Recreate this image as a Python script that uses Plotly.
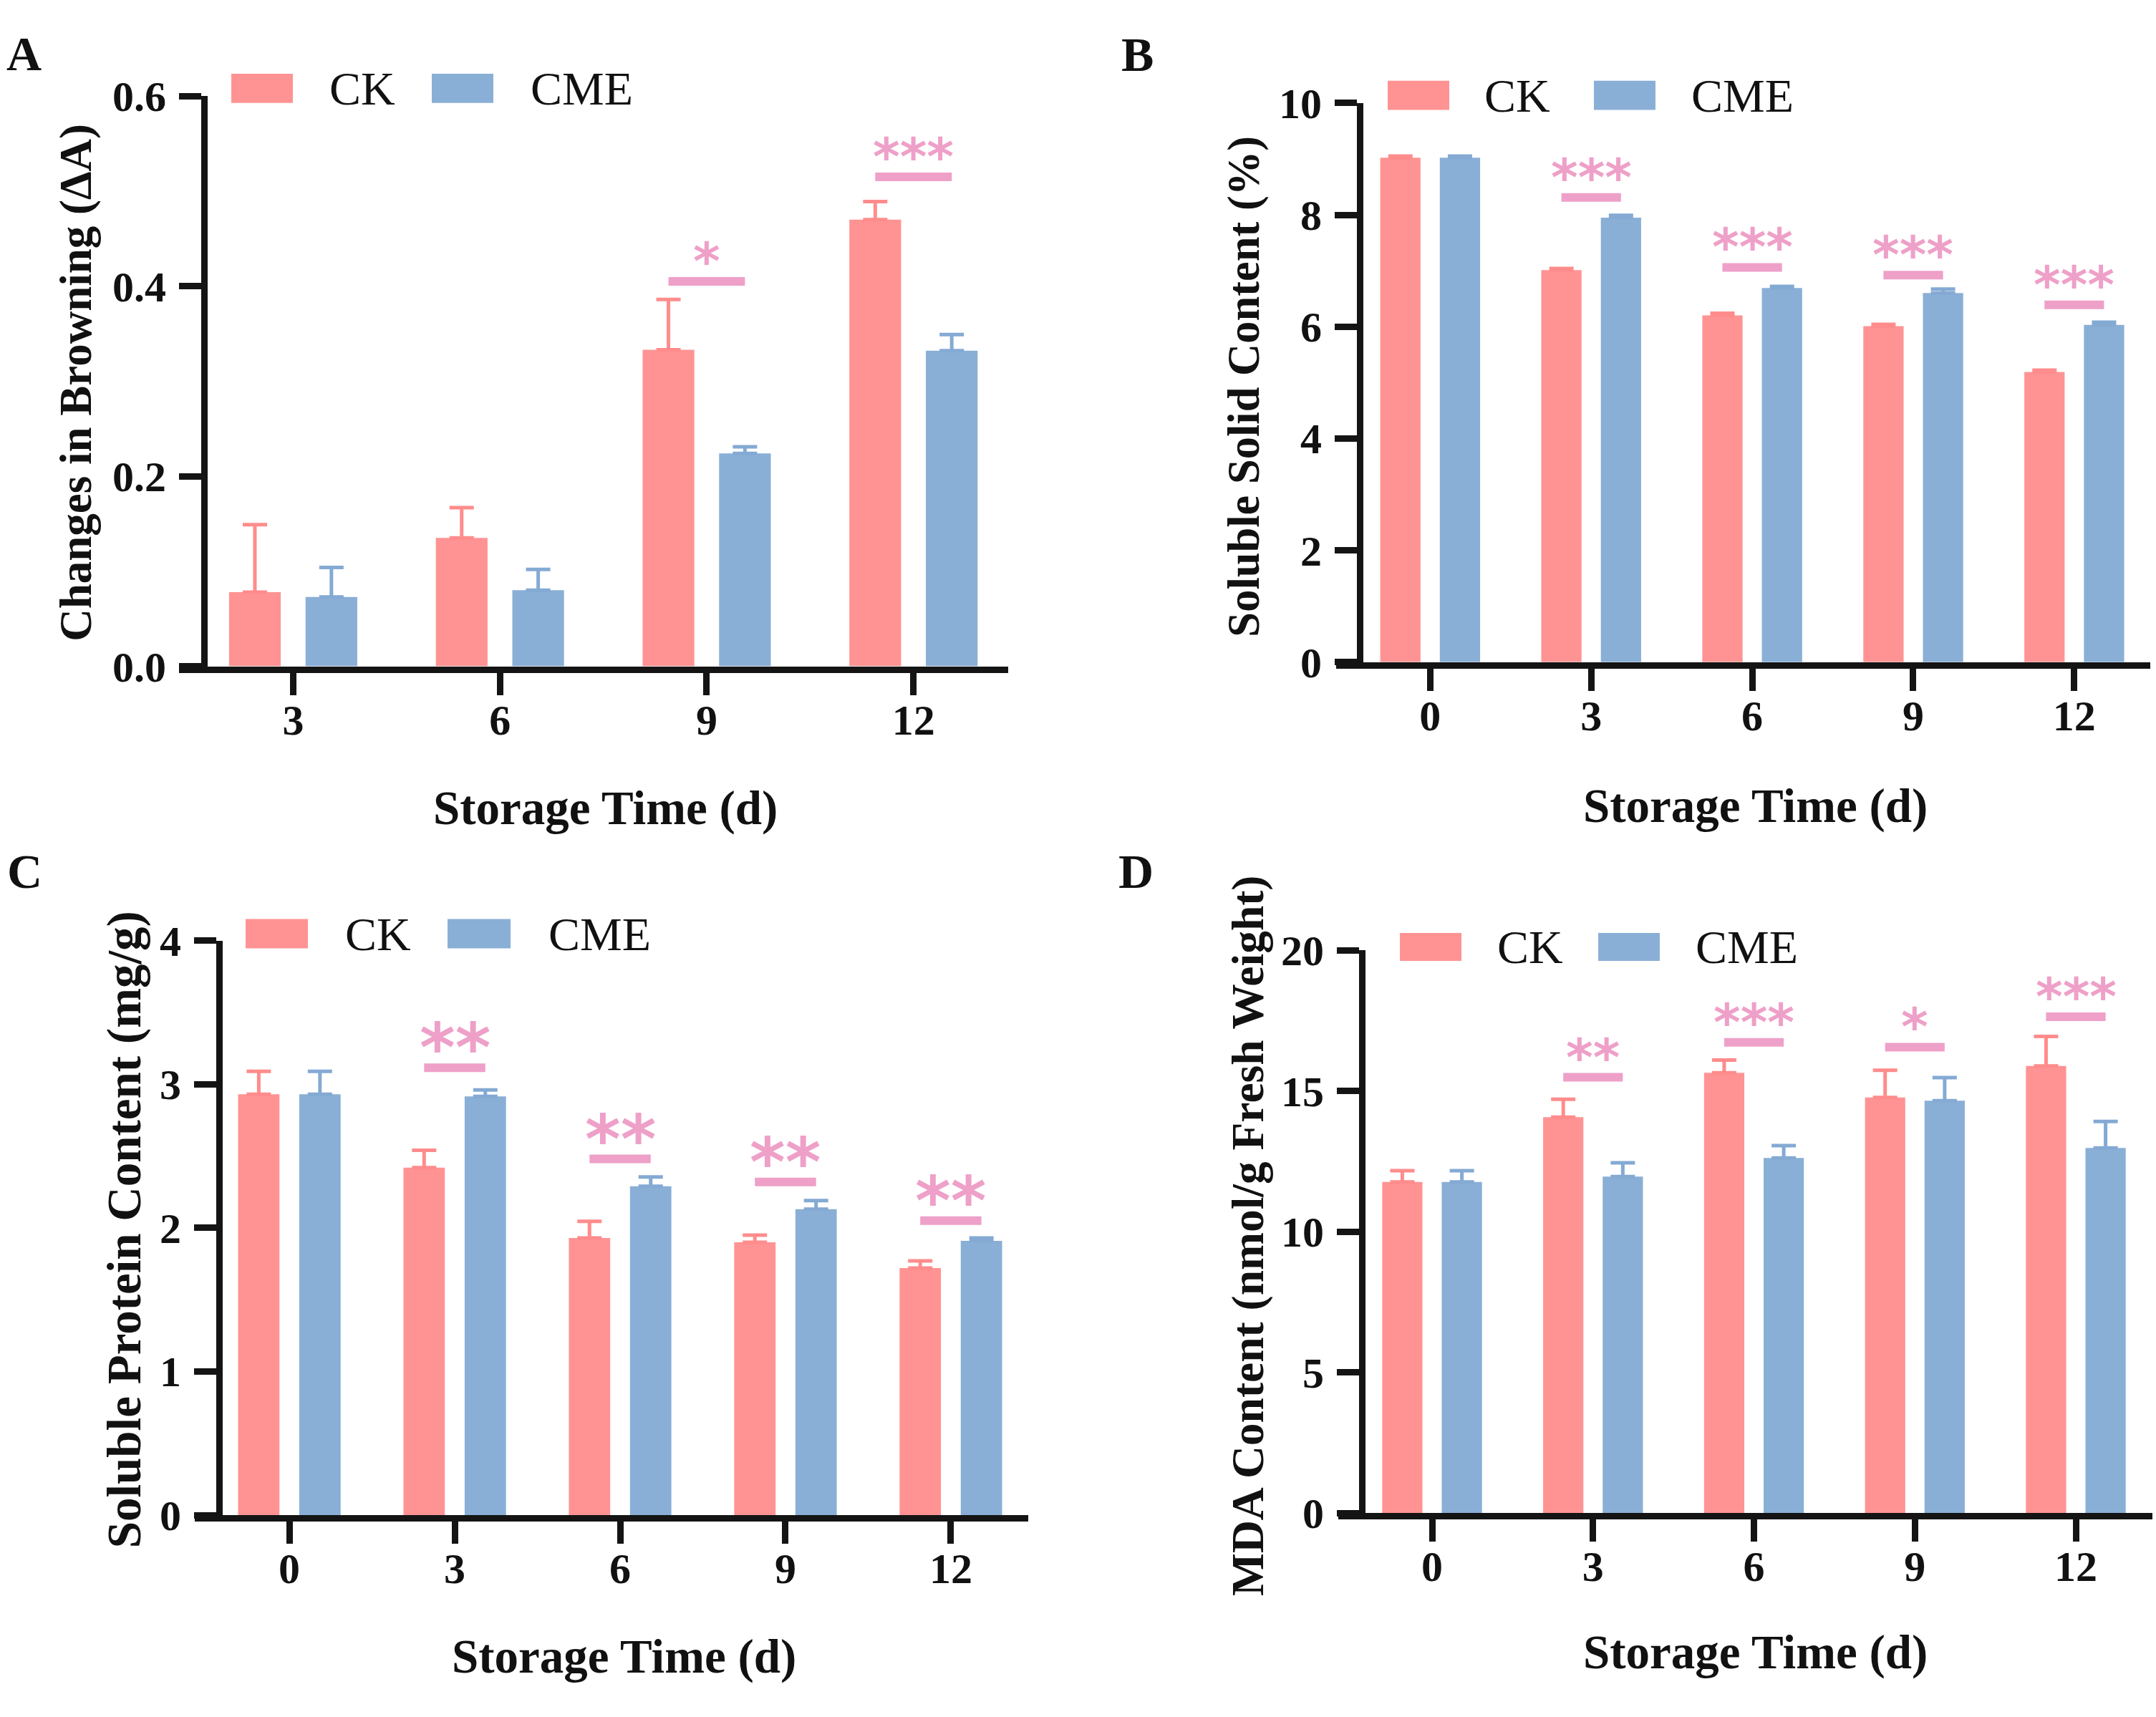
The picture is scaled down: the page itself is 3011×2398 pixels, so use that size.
import plotly.graph_objects as go

W, H = 3011, 2398

# ---------------- data ----------------
days_A = ["3", "6", "9", "12"]
browning_ck = [0.078, 0.135, 0.333, 0.470]
browning_ck_err = [0.071, 0.032, 0.053, 0.019]
browning_cme = [0.073, 0.080, 0.224, 0.332]
browning_cme_err = [0.031, 0.022, 0.007, 0.017]
browning_sig_y = [None, None, 0.405, 0.515]
browning_sig = ["", "", "*", "***"]

days_B = ["0", "3", "6", "9", "12"]
ssc_ck = [9.02, 7.01, 6.20, 6.01, 5.19]
ssc_ck_err = [0.03, 0.03, 0.04, 0.03, 0.03]
ssc_cme = [9.02, 7.95, 6.69, 6.60, 6.03]
ssc_cme_err = [0.03, 0.04, 0.03, 0.07, 0.05]
ssc_sig_y = [None, 8.31, 7.06, 6.92, 6.39]
ssc_sig = ["", "***", "***", "***", "***"]

days_C = ["0", "3", "6", "9", "12"]
protein_ck = [2.93, 2.42, 1.93, 1.90, 1.72]
protein_ck_err = [0.16, 0.12, 0.115, 0.05, 0.05]
protein_cme = [2.93, 2.915, 2.29, 2.13, 1.91]
protein_cme_err = [0.16, 0.045, 0.065, 0.06, 0.02]
protein_sig_y = [None, 3.115, 2.48, 2.32, 2.05]
protein_sig = ["", "**", "**", "**", "**"]

days_D = ["0", "3", "6", "9", "12"]
mda_ck = [11.77, 14.07, 15.65, 14.77, 15.89]
mda_ck_err = [0.40, 0.64, 0.45, 0.97, 1.05]
mda_cme = [11.77, 11.96, 12.62, 14.66, 12.98]
mda_cme_err = [0.40, 0.49, 0.44, 0.82, 0.94]
mda_sig_y = [None, 15.49, 16.73, 16.56, 17.64]
mda_sig = ["", "**", "***", "*", "***"]

series_names = ["CK", "CME"]
x_title = "Storage Time (d)"

# ---------------- style ----------------
CK_COLOR = "#FF9393"
CME_COLOR = "#8AAFD6"
CK_ERR = "#FF8C8C"
CME_ERR = "#84AAD4"
SIG_COLOR = "#EEA0C8"
AXIS_COLOR = "#141414"
TEXT_COLOR = "#111111"
SERIF = "Liberation Serif"
STAR_FONT = "DejaVu Sans"
BARGAP = 0.26
BARGROUPGAP = 0.324
HALF = (1 - BARGAP) / 4  # offset of each bar centre from the category centre

panels = [
    dict(letter="A", days=days_A, ck=browning_ck, ck_err=browning_ck_err,
         cme=browning_cme, cme_err=browning_cme_err,
         sig_y=browning_sig_y, sig=browning_sig,
         yticks=[0, 0.2, 0.4, 0.6], ymax=0.6, tickfmt=".1f",
         ytitle="Changes in Browning (ΔA)", ytsize=63,
         x_line=(250, 1408), x_range=(-0.552, 3.458), yaxis_px=285, y_px=(924, 105),
         letter_xy=(33, 44), leg_y=(73, 115), leg_x=(323, 409, 458, 603, 689, 739),
         xtitle_xy=(846, 1128), ytitle_xy=(106, 517), star=72),
    dict(letter="B", days=days_B, ck=ssc_ck, ck_err=ssc_ck_err,
         cme=ssc_cme, cme_err=ssc_cme_err,
         sig_y=ssc_sig_y, sig=ssc_sig,
         yticks=[0, 2, 4, 6, 8, 10], ymax=10, tickfmt="d",
         ytitle="Soluble Solid Content (%)", ytsize=62.5,
         x_line=(1866, 3003), x_range=(-0.584, 4.472), yaxis_px=1899, y_px=(918, 115),
         letter_xy=(1588, 45), leg_y=(83, 125), leg_x=(1938, 2024, 2071, 2226, 2312, 2360),
         xtitle_xy=(2451, 1124), ytitle_xy=(1737, 522), star=72),
    dict(letter="C", days=days_C, ck=protein_ck, ck_err=protein_ck_err,
         cme=protein_cme, cme_err=protein_cme_err,
         sig_y=protein_sig_y, sig=protein_sig,
         yticks=[0, 1, 2, 3, 4], ymax=4, tickfmt="d",
         ytitle="Soluble Protein Content (mg/g)", ytsize=67,
         x_line=(272, 1436), x_range=(-0.572, 4.468), yaxis_px=306, y_px=(2143, 1318),
         letter_xy=(34, 1219), leg_y=(1287, 1329), leg_x=(343, 430, 480, 625, 713, 764),
         xtitle_xy=(872, 2346), ytitle_xy=(173, 1733), star=95),
    dict(letter="D", days=days_D, ck=mda_ck, ck_err=mda_ck_err,
         cme=mda_cme, cme_err=mda_cme_err,
         sig_y=mda_sig_y, sig=mda_sig,
         yticks=[0, 5, 10, 15, 20], ymax=20, tickfmt="d",
         ytitle="MDA Content (nmol/g Fresh Weight)", ytsize=63.5,
         x_line=(1869, 3006), x_range=(-0.583, 4.476), yaxis_px=1902, y_px=(2140, 1332),
         letter_xy=(1586, 1219), leg_y=(1307, 1347), leg_x=(1955, 2041, 2089, 2232, 2318, 2366),
         xtitle_xy=(2451, 2340), ytitle_xy=(1742, 1742), star=72),
]

fig = go.Figure()
shapes = []
annotations = []


def px(xp):
    return xp / W


def py(yp):
    return 1 - yp / H


for i, p in enumerate(panels):
    n = len(p["days"])
    idx = list(range(n))
    sfx = "" if i == 0 else str(i + 1)
    xa, ya = "x" + sfx, "y" + sfx

    for name, vals, errs, col, ecol in [
        (series_names[0], p["ck"], p["ck_err"], CK_COLOR, CK_ERR),
        (series_names[1], p["cme"], p["cme_err"], CME_COLOR, CME_ERR),
    ]:
        fig.add_trace(go.Bar(
            x=idx, y=vals, name=name, xaxis=xa, yaxis=ya,
            marker=dict(color=col, line=dict(width=0)),
            error_y=dict(type="data", symmetric=False, array=errs,
                         arrayminus=[0] * n, color=ecol, thickness=5, width=17),
            showlegend=False, offsetgroup=name,
        ))

    axis_common = dict(
        showline=True, linewidth=9, linecolor=AXIS_COLOR,
        ticks="outside", ticklen=31, tickwidth=9, tickcolor=AXIS_COLOR,
        showgrid=False, zeroline=False, fixedrange=True,
        tickfont=dict(family=SERIF, size=60, color=TEXT_COLOR, weight="bold"),
    )
    fig.update_layout(**{
        "xaxis" + sfx: dict(
            domain=[px(p["x_line"][0]), px(p["x_line"][1])],
            range=list(p["x_range"]), anchor=ya,
            tickmode="array", tickvals=idx, ticktext=p["days"],
            ticklabelstandoff=-17,
            **axis_common),
        "yaxis" + sfx: dict(
            domain=[py(p["y_px"][0]), py(p["y_px"][1])],
            range=[0, p["ymax"]], anchor="free", position=px(p["yaxis_px"]),
            tickmode="array", tickvals=p["yticks"], tickformat=p["tickfmt"],
            ticklabelstandoff=6,
            **axis_common),
    })

    # significance bars and stars
    for j in idx:
        if p["sig_y"][j] is None:
            continue
        shapes.append(dict(type="line", xref=xa, yref=ya,
                           x0=j - HALF, x1=j + HALF, y0=p["sig_y"][j], y1=p["sig_y"][j],
                           line=dict(color=SIG_COLOR, width=12)))
        annotations.append(dict(xref=xa, yref=ya, x=j, y=p["sig_y"][j],
                                text=p["sig"][j], showarrow=False,
                                xanchor="center", yanchor="middle", yshift=28,
                                font=dict(family=STAR_FONT, size=p["star"], color=SIG_COLOR,
                                          weight="bold")))

    # panel letter
    annotations.append(dict(xref="paper", yref="paper", x=px(p["letter_xy"][0]), y=py(p["letter_xy"][1]),
                            text="<b>%s</b>" % p["letter"], showarrow=False,
                            xanchor="center", yanchor="middle",
                            font=dict(family=SERIF, size=68, color=TEXT_COLOR)))
    # axis titles
    annotations.append(dict(xref="paper", yref="paper", x=px(p["xtitle_xy"][0]), y=py(p["xtitle_xy"][1]),
                            text="<b>%s</b>" % x_title, showarrow=False,
                            xanchor="center", yanchor="middle",
                            font=dict(family=SERIF, size=67, color=TEXT_COLOR)))
    annotations.append(dict(xref="paper", yref="paper", x=px(p["ytitle_xy"][0]), y=py(p["ytitle_xy"][1]),
                            text="<b>%s</b>" % p["ytitle"], showarrow=False, textangle=-90,
                            xanchor="center", yanchor="middle",
                            font=dict(family=SERIF, size=p["ytsize"], color=TEXT_COLOR)))
    # legend (drawn by hand so the swatches match the original size)
    lx = p["leg_x"]
    ly0, ly1 = p["leg_y"]
    for (x0, x1, tx), name, col in [((lx[0], lx[1], lx[2]), series_names[0], CK_COLOR),
                                    ((lx[3], lx[4], lx[5]), series_names[1], CME_COLOR)]:
        shapes.append(dict(type="rect", xref="paper", yref="paper",
                           x0=px(x0), x1=px(x1), y0=py(ly1), y1=py(ly0),
                           fillcolor=col, line=dict(width=0)))
        annotations.append(dict(xref="paper", yref="paper", x=px(tx), y=py((ly0 + ly1) / 2),
                                text=name, showarrow=False, xanchor="left", yanchor="middle",
                                font=dict(family=SERIF, size=66, color=TEXT_COLOR)))

fig.update_layout(
    width=W, height=H,
    margin=dict(l=0, r=0, t=0, b=0),
    paper_bgcolor="white", plot_bgcolor="white",
    barmode="group", bargap=BARGAP, bargroupgap=BARGROUPGAP,
    shapes=shapes, annotations=annotations,
    showlegend=False,
)

fig.write_html("out.html", post_script="document.body.style.margin='0';",
               config={"displayModeBar": False})
